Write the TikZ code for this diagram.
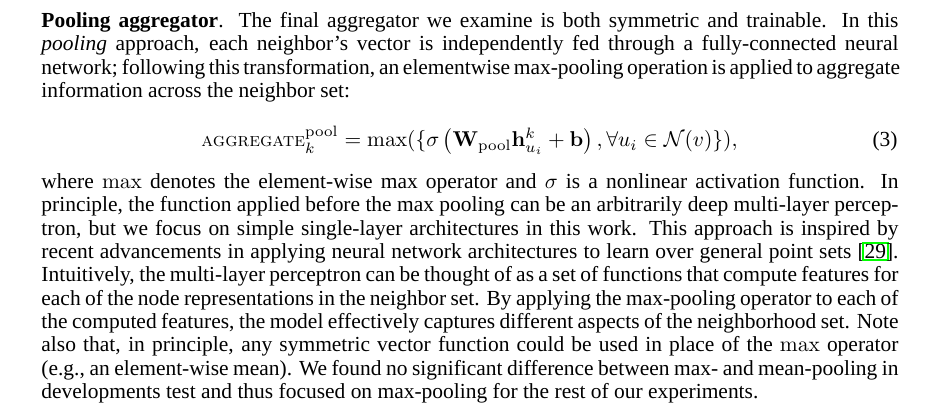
\documentclass[tikz,border=0pt]{standalone}
\usepackage{amsmath,amssymb}
\usepackage[no-math]{fontspec}
\setmainfont{LiberationSerif}[Extension=.ttf, UprightFont=*-Regular, BoldFont=*-Bold,
  ItalicFont=*-Italic, BoldItalicFont=*-BoldItalic]
\usetikzlibrary{positioning}
\newlength{\tw}
\setlength{\tw}{399.4pt}
\newcommand*{\jl}[1]{\hbox to \tw{#1}}
\newcommand*{\agg}{\mbox{\fontencoding{OT1}\fontfamily{cmr}\fontseries{m}\fontshape{sc}\fontsize{9.5}{11}\selectfont aggregate}}
\newcommand*{\cbox}[1]{{\setlength{\fboxsep}{0.3pt}\setlength{\fboxrule}{0.9pt}%
  \hspace{-1.2pt}\color{green}\fbox{\color{black}#1}\hspace{-1.2pt}}}
\tikzset{
  txtline/.style = { anchor=base west, inner sep=0pt, font=\fontsize{10}{11}\selectfont },
}
\begin{document}
\begin{tikzpicture}[x=0.466pt, y=-0.466pt]
  \useasboundingbox[fill=white] (0,0) rectangle (937,416);
  % first paragraph
  \node[txtline] (a1) at (41,27.3)
    {\jl{\textbf{Pooling aggregator}. The final aggregator we examine is both symmetric and trainable. In this}};
  \node[txtline] (a2) at (41,50.8)
    {\jl{\textit{pooling} approach, each neighbor's vector is independently fed through a fully-connected neural}};
  \node[txtline] (a3) at (41,74.2)
    {\jl{network; following this transformation, an elementwise max-pooling operation is applied to aggregate}};
  \node[txtline] (a4) at (41,97.7)
    {information across the neighbor set:};
  % equation (3)
  \node[txtline, anchor=base] (eq) at (469.5,147)
    {$\displaystyle \agg^{\mathrm{pool}}_k = \max(\{\sigma\left(\mathbf{W}_{\mathrm{pool}}\mathbf{h}^k_{u_i} + \mathbf{b}\right), \forall u_i \in \mathcal{N}(v)\}),$};
  \node[txtline, anchor=base east] (num) at (898,147) {(3)};
  % second paragraph
  \node[txtline] (b1) at (41,188.5)
    {\jl{where $\max$ denotes the element-wise max operator and $\sigma$ is a nonlinear activation function. In}};
  \node[txtline] (b2) at (41,211.8)
    {\jl{principle, the function applied before the max pooling can be an arbitrarily deep multi-layer percep-}};
  \node[txtline] (b3) at (41,235.2)
    {\jl{tron, but we focus on simple single-layer architectures in this work. This approach is inspired by}};
  \node[txtline] (b4) at (41,258.5)
    {\jl{recent advancements in applying neural network architectures to learn over general point sets [\cbox{29}].}};
  \node[txtline] (b5) at (41,281.9)
    {\jl{Intuitively, the multi-layer perceptron can be thought of as a set of functions that compute features for}};
  \node[txtline] (b6) at (41,305.2)
    {\jl{each of the node representations in the neighbor set. By applying the max-pooling operator to each of}};
  \node[txtline] (b7) at (41,328.6)
    {\jl{the computed features, the model effectively captures different aspects of the neighborhood set. Note}};
  \node[txtline] (b8) at (41,351.9)
    {\jl{also that, in principle, any symmetric vector function could be used in place of the $\max$ operator}};
  \node[txtline] (b9) at (41,375.3)
    {\jl{(e.g., an element-wise mean). We found no significant difference between max- and mean-pooling in}};
  \node[txtline] (b10) at (41,398.6)
    {developments test and thus focused on max-pooling for the rest of our experiments.};
\end{tikzpicture}
\end{document}
